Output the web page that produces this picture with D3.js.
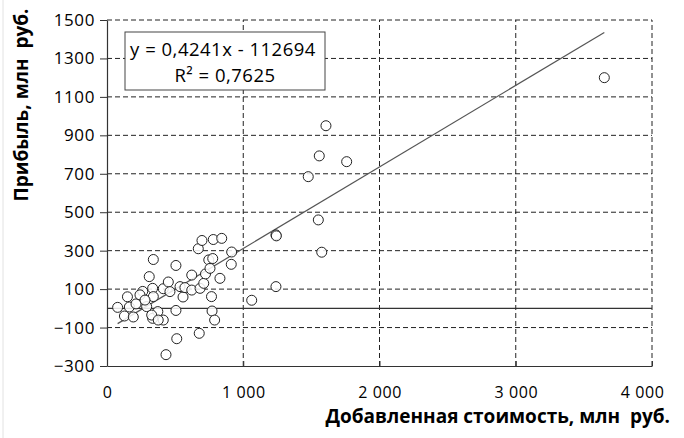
<!DOCTYPE html>
<html>
<head>
<meta charset="utf-8">
<script src="https://cdn.jsdelivr.net/npm/d3@7"></script>
<style>
  body { margin: 0; background: #fff; }
  text { font-family: 'Open Sans', 'Noto Sans', sans-serif; fill: #000; }
</style>
</head>
<body>
<div class="chart"></div>
<script>
var width = 684;
var height = 438;
var margin = {top: 20, right: 32, bottom: 72, left: 107};

// value added, mln rub (x) and profit, mln rub (y)
var valueAdded = [78, 150, 128, 193, 164, 213, 262, 310, 335, 340, 291, 340, 335, 373, 413, 413, 450, 462,
  506, 506, 512, 433, 558, 536, 572, 622, 622, 677, 670, 697, 683, 710, 723, 747, 776, 756, 780, 842, 829,
  767, 771, 790, 915, 912, 1062, 1240, 1243, 1240, 1607, 1558, 1759, 1477, 1551, 1576, 3650, 242, 328, 376, 279];
var profit = [5, 60, -40, -45, 7, 23, 88, 165, 104, 254, 9, 61, -52, -17, -61, 102, 137, 87,
  223, -11, -158, -241, 59, 113, 108, 173, 95, -130, 310, 353, 104, 130, 179, 252, 259, 208, 358, 364, 156,
  61, -14, -61, 293, 229, 42, 382, 377, 113, 950, 793, 763, 685, 460, 292, 1200, 70, -35, -61, 43];

var xTicks = [0, 1000, 2000, 3000, 4000];
var xTickLabels = ['0', '1 000', '2 000', '3 000', '4 000'];
var yTicks = [-300, -100, 100, 300, 500, 700, 900, 1100, 1300, 1500];

var slope = 0.4241;
var intercept = -112.694;
var eqText = 'y = 0,4241x - 112694';
var r2Text = 'R² = 0,7625';

var data = valueAdded.map(function(v, i){ return {x: v, y: profit[i]} });

var svg = d3.select('div.chart').append('svg')
    .attr('width', width)
    .attr('height', height)

var x_scale = d3.scaleLinear().domain([0, 4000]).range([margin.left, width - margin.right])
var y_scale = d3.scaleLinear().domain([-300, 1500]).range([height - margin.bottom, margin.top])

// faint border on the left
svg.append('line')
    .attr('x1', 3).attr('x2', 3).attr('y1', 0).attr('y2', height)
    .attr('stroke', '#e2e2e2')

// grid
svg.append('g').selectAll('line')
    .data(yTicks.slice(1))
    .enter().append('line')
    .attr('x1', x_scale(0)).attr('x2', x_scale(4000))
    .attr('y1', function(d){ return y_scale(d) }).attr('y2', function(d){ return y_scale(d) })
    .attr('stroke', '#222').attr('stroke-dasharray', '5,3')
svg.append('g').selectAll('line')
    .data(xTicks.slice(1))
    .enter().append('line')
    .attr('x1', function(d){ return x_scale(d) }).attr('x2', function(d){ return x_scale(d) })
    .attr('y1', y_scale(-300)).attr('y2', y_scale(1500))
    .attr('stroke', '#222').attr('stroke-dasharray', '5,3')

// zero line
svg.append('line')
    .attr('x1', x_scale(0)).attr('x2', x_scale(4000))
    .attr('y1', y_scale(0)).attr('y2', y_scale(0))
    .attr('stroke', '#333').attr('stroke-width', 1.2)

// axes
var y_axis = d3.axisLeft(y_scale).tickValues(yTicks).tickFormat(d3.format('d')).tickSize(7).tickSizeOuter(0)
var gy = svg.append('g')
    .attr('transform', 'translate(' + margin.left + ',0)')
    .call(y_axis)
gy.select('.domain').attr('stroke', '#333').attr('stroke-width', 1.2)
gy.selectAll('.tick line').attr('stroke', '#333')
gy.selectAll('text').style('font-size', '17px').style('letter-spacing', '0.6px')
    .attr('x', -12).attr('fill', '#000')

var x_axis = d3.axisBottom(x_scale).tickValues(xTicks)
    .tickFormat(function(d, i){ return xTickLabels[i] }).tickSize(-5).tickSizeOuter(0)
var gx = svg.append('g')
    .attr('transform', 'translate(0,' + y_scale(-300) + ')')
    .call(x_axis)
gx.select('.domain').attr('stroke', '#333').attr('stroke-width', 1.2)
gx.selectAll('.tick line').attr('stroke', '#333')
gx.selectAll('text').style('font-size', '16px').style('letter-spacing', '0.6px')
    .attr('y', 32).attr('dy', null).attr('fill', '#000')
gx.selectAll('.tick').filter(function(d){ return d == 4000 }).select('text').attr('dx', -10)
gx.append('line').attr('x1', -7).attr('x2', 0).attr('stroke', '#333').attr('stroke-width', 1.2)

// trend line
var xmin = d3.min(valueAdded), xmax = d3.max(valueAdded)
svg.append('line')
    .attr('x1', x_scale(xmin)).attr('y1', y_scale(slope * xmin + intercept))
    .attr('x2', x_scale(xmax)).attr('y2', y_scale(slope * xmax + intercept))
    .attr('stroke', '#555').attr('stroke-width', 1.2)

// points
svg.append('g').selectAll('circle')
    .data(data)
    .enter().append('circle')
    .attr('cx', function(d){ return x_scale(d.x) })
    .attr('cy', function(d){ return y_scale(d.y) })
    .attr('r', 5)
    .attr('fill', '#fff')
    .attr('fill-opacity', 0.85)
    .attr('stroke', '#222')
    .attr('stroke-width', 1)

// equation box
svg.append('rect')
    .attr('x', 125).attr('y', 32).attr('width', 200).attr('height', 58)
    .attr('fill', '#fff').attr('stroke', '#444').attr('stroke-width', 1)
svg.append('text')
    .attr('x', 223).attr('y', 56)
    .style('text-anchor', 'middle').style('font-size', '18.5px').style('letter-spacing', '0.5px')
    .text(eqText)
svg.append('text')
    .attr('x', 225).attr('y', 82)
    .style('text-anchor', 'middle').style('font-size', '18.5px').style('letter-spacing', '0.5px')
    .text(r2Text)

// axis titles
svg.append('text')
    .attr('x', 670).attr('y', 423)
    .style('text-anchor', 'end').style('font-size', '19px').style('font-weight', 'bold')
    .style('white-space', 'pre')
    .text('Добавленная стоимость, млн  руб.')
svg.append('text')
    .attr('transform', 'translate(28,105) rotate(-90)')
    .style('text-anchor', 'middle').style('font-size', '19px').style('font-weight', 'bold')
    .style('white-space', 'pre')
    .text('Прибыль, млн  руб.')
</script>
</body>
</html>
